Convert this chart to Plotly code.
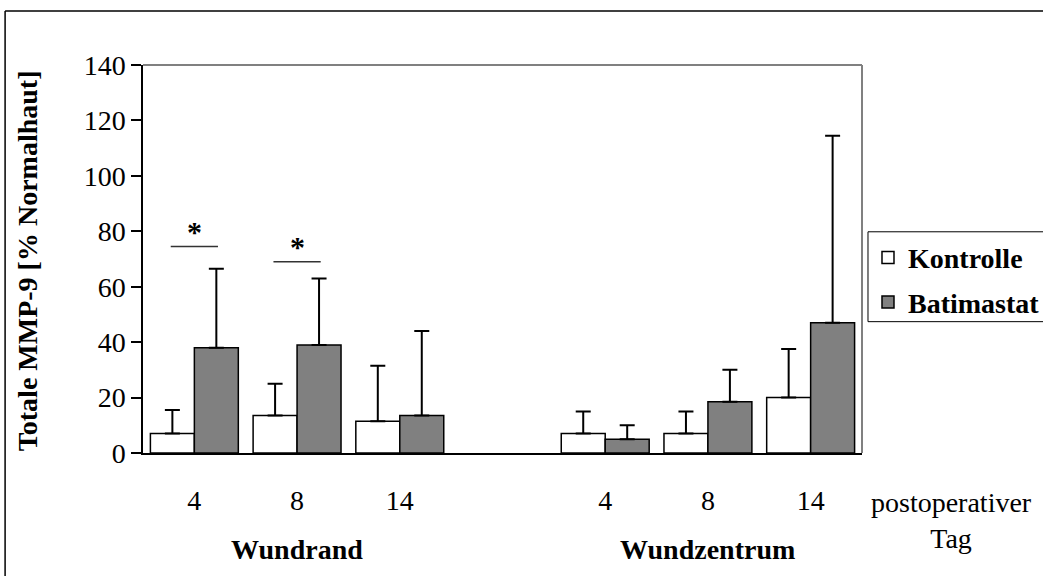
import plotly.graph_objects as go

# ---- data -------------------------------------------------------------
groups = ["Wundrand", "Wundzentrum"]
days = ["4", "8", "14"]

kontrolle_mean = [7.0, 13.5, 11.5, 7.0, 7.0, 20.0]
kontrolle_sd = [8.5, 11.5, 20.0, 8.0, 8.0, 17.5]
batimastat_mean = [38.0, 39.0, 13.5, 5.0, 18.5, 47.0]
batimastat_sd = [28.5, 24.0, 30.5, 5.0, 11.5, 67.5]

y_ticks = [0, 20, 40, 60, 80, 100, 120, 140]

# significant differences (index into the bar positions, bracket level)
sig_index = [0, 1]
sig_level = [74.5, 69.0]

# ---- layout geometry --------------------------------------------------
W, H = 1043, 576
L, R, T, B = 142.5, 862.0, 65.0, 453.5


def px(x):
    return (x - L) / (R - L)


def py(y):
    return (B - y) / (B - T)


# one empty slot separates the two wound regions
slot = len(days) + 1
xpos = [g * slot + i for g in range(len(groups)) for i in range(len(days))]
ticktext = [d for _ in groups for d in days]

FONT = "Liberation Serif"
FS = 28

fig = go.Figure()
fig.add_trace(go.Bar(
    x=xpos, y=kontrolle_mean, name="Kontrolle",
    marker=dict(color="white", line=dict(color="black", width=1.5)),
    error_y=dict(type="data", symmetric=False, array=kontrolle_sd,
                 arrayminus=[0] * len(kontrolle_sd),
                 color="black", thickness=2, width=7.5),
    legendgroup="k",
))
fig.add_trace(go.Bar(
    x=xpos, y=batimastat_mean, name="Batimastat",
    marker=dict(color="#808080", line=dict(color="black", width=1.5)),
    error_y=dict(type="data", symmetric=False, array=batimastat_sd,
                 arrayminus=[0] * len(batimastat_sd),
                 color="black", thickness=2, width=7.5),
    legendgroup="b",
))

shapes = [
    # grey top and right frame of the plot area
    dict(type="line", xref="paper", yref="paper", x0=0, x1=1, y0=1, y1=1,
         line=dict(color="#808080", width=2)),
    dict(type="line", xref="paper", yref="paper", x0=1, x1=1, y0=0, y1=1,
         line=dict(color="#808080", width=2)),
    # outer figure frame
    dict(type="line", xref="paper", yref="paper", x0=px(4.5), x1=px(4.5),
         y0=py(11), y1=py(H + 5), line=dict(color="black", width=1.5)),
    dict(type="line", xref="paper", yref="paper", x0=px(4.5), x1=px(W + 5),
         y0=py(11), y1=py(11), line=dict(color="black", width=1.5)),
    # legend frame, running out past the right edge
    dict(type="rect", xref="paper", yref="paper", x0=px(868), x1=px(W + 10),
         y0=py(322), y1=py(232), line=dict(color="black", width=1),
         layer="below"),
]

annotations = [
    dict(text="<b>Totale MMP-9 [% Normalhaut]</b>", textangle=-90,
         xref="paper", yref="paper", x=px(27), y=py(261),
         xanchor="center", yanchor="middle", showarrow=False,
         font=dict(size=FS)),
    dict(text="postoperativer<br>Tag", xref="paper", yref="paper",
         x=px(952), y=py(521), xanchor="center", yanchor="middle",
         showarrow=False, font=dict(size=FS)),
]

for g, name in enumerate(groups):
    centre = g * slot + (len(days) - 1) / 2
    annotations.append(dict(
        text=f"<b>{name}</b>", xref="x", yref="paper", x=centre,
        y=py(550), xanchor="center", yanchor="middle", showarrow=False,
        font=dict(size=FS)))

for idx, lev in zip(sig_index, sig_level):
    xc = xpos[idx]
    shapes.append(dict(type="line", xref="x", yref="y",
                       x0=xc - 0.23, x1=xc + 0.23, y0=lev, y1=lev,
                       line=dict(color="#333333", width=1.5)))
    annotations.append(dict(text="<b>*</b>", xref="x", yref="y", x=xc,
                            y=lev + 5.5, xanchor="center", yanchor="middle",
                            showarrow=False, font=dict(size=FS + 2)))

fig.update_layout(
    width=W, height=H,
    margin=dict(l=L, r=W - R, t=T, b=H - B, autoexpand=False),
    paper_bgcolor="white", plot_bgcolor="white",
    font=dict(family=FONT, size=FS, color="black"),
    barmode="group", bargap=0.144, bargroupgap=0,
    showlegend=True,
    legend=dict(x=px(868), y=py(233), xanchor="left", yanchor="top",
                bgcolor="rgba(0,0,0,0)", borderwidth=0,
                font=dict(family=FONT, size=FS, weight="bold"),
                tracegroupgap=5, traceorder="grouped"),
    xaxis=dict(range=[-0.5, len(xpos) + 0.5], tickvals=xpos,
               ticktext=ticktext, showline=True, linecolor="black",
               linewidth=1.5, ticks="", showgrid=False, zeroline=False,
               ticklabelstandoff=22, tickfont=dict(size=FS)),
    yaxis=dict(range=[0, 140], tickvals=y_ticks, showline=True,
               linecolor="black", linewidth=1.5, ticks="outside",
               ticklen=10, tickcolor="black", tickwidth=1.5,
               showgrid=False, zeroline=False, tickfont=dict(size=FS)),
    shapes=shapes, annotations=annotations,
)

fig.write_html("out.html")
